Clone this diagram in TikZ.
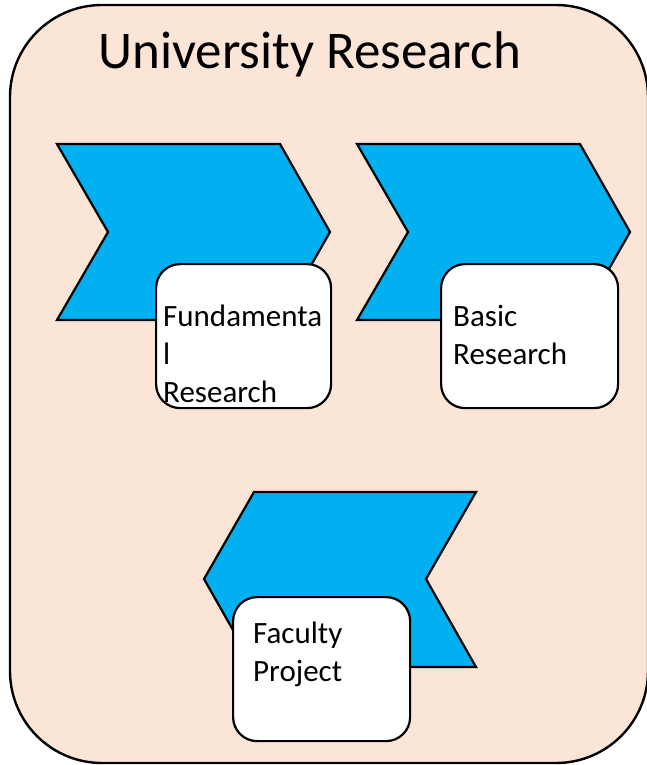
\documentclass[tikz,border=0pt]{standalone}
\usepackage{fontspec}
\setmainfont{Carlito}
\definecolor{peach}{HTML}{FBE5D6}
\definecolor{chev}{HTML}{00B0F0}
\begin{document}
\begin{tikzpicture}[x=1pt,y=-1pt,
  outerbox/.style={draw=black,line width=2.4pt,fill=peach,rounded corners=92pt},
  chevshape/.style={draw=black,line width=2.2pt,fill=chev,line join=miter},
  labelbox/.style={draw=black,line width=2.2pt,fill=white,rounded corners=24pt},
  boxtext/.style={inner sep=0pt,align=left,anchor=base west,font=\fontsize{31}{38}\selectfont},
  titletext/.style={inner sep=0pt,anchor=base west,font=\fontsize{53}{60}\selectfont}]
\useasboundingbox (0,0) rectangle (646,765);
% outer container
\path[outerbox] (10,5) rectangle (648,763);
\node[titletext] (title) at (98,69) {University Research};
% chevrons
\path[chevshape] (57,144) -- (280,144) -- (330,232) -- (280,320) -- (57,320) -- (108,232) -- cycle;
\path[chevshape] (357,144) -- (580,144) -- (630,232) -- (580,320) -- (357,320) -- (408,232) -- cycle;
\path[chevshape] (254,492) -- (476,492) -- (426,579) -- (476,667) -- (254,667) -- (204,579) -- cycle;
% label boxes
\node[labelbox,minimum width=175pt,minimum height=144pt,anchor=north west] (b1) at (155,263) {};
\node[labelbox,minimum width=177pt,minimum height=144pt,anchor=north west] (b2) at (440,263) {};
\node[labelbox,minimum width=177pt,minimum height=144pt,anchor=north west] (b3) at (232,596) {};
\node[boxtext] (t1) at (163,402) {Fundamenta\\l\\Research};
\node[boxtext] (t2) at (453,364) {Basic\\Research};
\node[boxtext] (t3) at (253,681) {Faculty\\Project};
\end{tikzpicture}
\end{document}
